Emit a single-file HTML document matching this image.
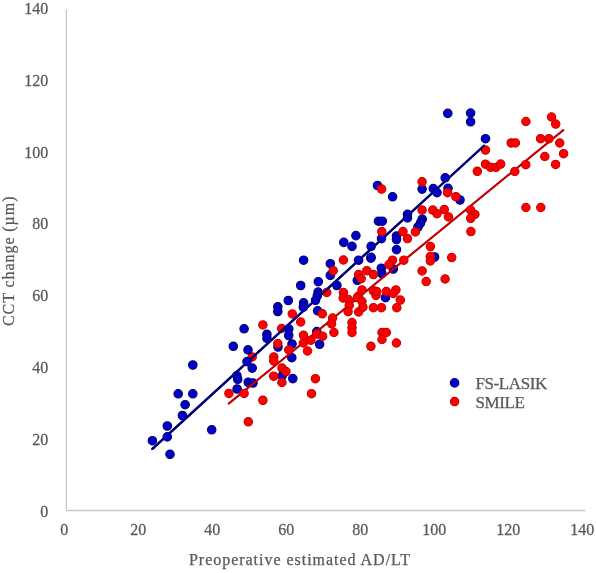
<!DOCTYPE html>
<html><head><meta charset="utf-8"><style>
html,body{margin:0;padding:0;background:#fff;width:596px;height:573px;overflow:hidden}
svg{display:block}
text{font-family:"Liberation Serif","Times New Roman",serif;fill:#595959;font-size:16px;stroke:#595959;stroke-width:0.25px}
.lg{font-size:17px;letter-spacing:-0.4px}
</style></head><body>
<svg width="596" height="573" viewBox="0 0 596 573">
<rect width="596" height="573" fill="#fff"/>
<g stroke="#c8c8c8" stroke-width="1.3" fill="none">
<line x1="66.3" y1="9.5" x2="66.3" y2="511.1"/>
<line x1="65.6" y1="510.5" x2="585.3" y2="510.5"/>
</g>
<g><text transform="translate(48.3,516.70) scale(1,1.07)" text-anchor="end">0</text><text transform="translate(48.3,444.86) scale(1,1.07)" text-anchor="end">20</text><text transform="translate(48.3,373.02) scale(1,1.07)" text-anchor="end">40</text><text transform="translate(48.3,301.18) scale(1,1.07)" text-anchor="end">60</text><text transform="translate(48.3,229.34) scale(1,1.07)" text-anchor="end">80</text><text transform="translate(48.3,157.50) scale(1,1.07)" text-anchor="end">100</text><text transform="translate(48.3,85.66) scale(1,1.07)" text-anchor="end">120</text><text transform="translate(48.3,13.82) scale(1,1.07)" text-anchor="end">140</text></g>
<g><text transform="translate(64.2,535.4) scale(1,1.07)" text-anchor="middle">0</text><text transform="translate(138.2,535.4) scale(1,1.07)" text-anchor="middle">20</text><text transform="translate(212.2,535.4) scale(1,1.07)" text-anchor="middle">40</text><text transform="translate(286.3,535.4) scale(1,1.07)" text-anchor="middle">60</text><text transform="translate(360.3,535.4) scale(1,1.07)" text-anchor="middle">80</text><text transform="translate(434.3,535.4) scale(1,1.07)" text-anchor="middle">100</text><text transform="translate(508.3,535.4) scale(1,1.07)" text-anchor="middle">120</text><text transform="translate(582.3,535.4) scale(1,1.07)" text-anchor="middle">140</text></g>
<g fill="#ff0000" stroke="#c40000" stroke-width="1.1">
<circle cx="281.6" cy="328.5" r="4.2"/>
<circle cx="252.2" cy="357.0" r="4.2"/>
</g>
<line x1="152.4" y1="448.9" x2="484.0" y2="145.7" stroke="#000078" stroke-width="2.2" stroke-linecap="round"/>
<g fill="#0000c8" stroke="#000078" stroke-width="1.2">
<circle cx="152.4" cy="440.7" r="4.2"/>
<circle cx="167.3" cy="426.0" r="4.2"/>
<circle cx="167.3" cy="436.9" r="4.2"/>
<circle cx="170.0" cy="454.3" r="4.2"/>
<circle cx="211.7" cy="429.8" r="4.2"/>
<circle cx="178.2" cy="393.8" r="4.2"/>
<circle cx="192.8" cy="393.8" r="4.2"/>
<circle cx="185.1" cy="404.7" r="4.2"/>
<circle cx="182.4" cy="415.5" r="4.2"/>
<circle cx="192.8" cy="365.0" r="4.2"/>
<circle cx="244.1" cy="328.8" r="4.2"/>
<circle cx="233.3" cy="346.3" r="4.2"/>
<circle cx="248.0" cy="349.9" r="4.2"/>
<circle cx="247.0" cy="361.6" r="4.2"/>
<circle cx="252.2" cy="368.1" r="4.2"/>
<circle cx="236.9" cy="375.6" r="4.2"/>
<circle cx="237.7" cy="379.3" r="4.2"/>
<circle cx="248.2" cy="382.3" r="4.2"/>
<circle cx="253.0" cy="383.0" r="4.2"/>
<circle cx="237.1" cy="389.0" r="4.2"/>
<circle cx="278.0" cy="347.0" r="4.2"/>
<circle cx="292.0" cy="344.0" r="4.2"/>
<circle cx="291.8" cy="357.7" r="4.2"/>
<circle cx="282.1" cy="375.9" r="4.2"/>
<circle cx="292.8" cy="378.6" r="4.2"/>
<circle cx="288.3" cy="300.5" r="4.2"/>
<circle cx="277.8" cy="306.8" r="4.2"/>
<circle cx="277.8" cy="311.5" r="4.2"/>
<circle cx="266.9" cy="334.3" r="4.2"/>
<circle cx="267.0" cy="338.4" r="4.2"/>
<circle cx="288.8" cy="329.0" r="4.2"/>
<circle cx="288.7" cy="335.5" r="4.2"/>
<circle cx="303.6" cy="260.2" r="4.2"/>
<circle cx="300.7" cy="285.5" r="4.2"/>
<circle cx="303.6" cy="302.9" r="4.2"/>
<circle cx="303.3" cy="307.2" r="4.2"/>
<circle cx="318.3" cy="281.7" r="4.2"/>
<circle cx="318.1" cy="292.1" r="4.2"/>
<circle cx="317.3" cy="295.8" r="4.2"/>
<circle cx="315.5" cy="300.3" r="4.2"/>
<circle cx="317.6" cy="310.8" r="4.2"/>
<circle cx="330.3" cy="263.7" r="4.2"/>
<circle cx="330.3" cy="275.4" r="4.2"/>
<circle cx="336.9" cy="285.5" r="4.2"/>
<circle cx="358.6" cy="260.2" r="4.2"/>
<circle cx="370.8" cy="258.1" r="4.2"/>
<circle cx="357.3" cy="280.3" r="4.2"/>
<circle cx="316.8" cy="331.6" r="4.2"/>
<circle cx="319.6" cy="344.3" r="4.2"/>
<circle cx="381.3" cy="268.2" r="4.2"/>
<circle cx="381.8" cy="273.5" r="4.2"/>
<circle cx="393.3" cy="269.0" r="4.2"/>
<circle cx="385.5" cy="297.7" r="4.2"/>
<circle cx="355.9" cy="235.6" r="4.2"/>
<circle cx="343.8" cy="242.4" r="4.2"/>
<circle cx="352.0" cy="246.4" r="4.2"/>
<circle cx="371.1" cy="246.4" r="4.2"/>
<circle cx="371.1" cy="257.4" r="4.2"/>
<circle cx="381.5" cy="238.6" r="4.2"/>
<circle cx="378.5" cy="221.2" r="4.2"/>
<circle cx="382.3" cy="221.2" r="4.2"/>
<circle cx="377.5" cy="185.5" r="4.2"/>
<circle cx="392.6" cy="196.8" r="4.2"/>
<circle cx="396.5" cy="236.0" r="4.2"/>
<circle cx="396.5" cy="239.5" r="4.2"/>
<circle cx="396.5" cy="249.6" r="4.2"/>
<circle cx="407.5" cy="214.3" r="4.2"/>
<circle cx="407.5" cy="217.9" r="4.2"/>
<circle cx="422.1" cy="189.1" r="4.2"/>
<circle cx="433.3" cy="188.6" r="4.2"/>
<circle cx="437.0" cy="192.6" r="4.2"/>
<circle cx="422.2" cy="219.2" r="4.2"/>
<circle cx="420.5" cy="223.0" r="4.2"/>
<circle cx="418.0" cy="227.0" r="4.2"/>
<circle cx="445.2" cy="177.8" r="4.2"/>
<circle cx="448.0" cy="188.3" r="4.2"/>
<circle cx="460.0" cy="200.0" r="4.2"/>
<circle cx="447.8" cy="113.4" r="4.2"/>
<circle cx="470.6" cy="113.1" r="4.2"/>
<circle cx="470.6" cy="121.8" r="4.2"/>
<circle cx="485.5" cy="138.7" r="4.2"/>
<circle cx="434.6" cy="257.0" r="4.2"/>
</g>
<line x1="228.7" y1="403.6" x2="563.3" y2="130.1" stroke="#c00000" stroke-width="2.2" stroke-linecap="round"/>
<g fill="#ff0000" stroke="#c40000" stroke-width="1.1">
<circle cx="248.3" cy="421.8" r="4.2"/>
<circle cx="228.9" cy="393.4" r="4.2"/>
<circle cx="244.1" cy="393.4" r="4.2"/>
<circle cx="262.9" cy="400.3" r="4.2"/>
<circle cx="311.5" cy="393.7" r="4.2"/>
<circle cx="315.4" cy="378.7" r="4.2"/>
<circle cx="273.8" cy="356.9" r="4.2"/>
<circle cx="273.8" cy="361.0" r="4.2"/>
<circle cx="277.8" cy="343.6" r="4.2"/>
<circle cx="288.8" cy="349.9" r="4.2"/>
<circle cx="282.0" cy="368.1" r="4.2"/>
<circle cx="286.0" cy="371.6" r="4.2"/>
<circle cx="273.7" cy="376.2" r="4.2"/>
<circle cx="281.9" cy="382.5" r="4.2"/>
<circle cx="262.9" cy="324.9" r="4.2"/>
<circle cx="292.3" cy="313.9" r="4.2"/>
<circle cx="300.7" cy="322.0" r="4.2"/>
<circle cx="303.4" cy="343.0" r="4.2"/>
<circle cx="307.5" cy="351.0" r="4.2"/>
<circle cx="370.9" cy="346.3" r="4.2"/>
<circle cx="303.5" cy="335.3" r="4.2"/>
<circle cx="310.9" cy="340.2" r="4.2"/>
<circle cx="316.9" cy="334.1" r="4.2"/>
<circle cx="322.6" cy="336.2" r="4.2"/>
<circle cx="322.3" cy="313.8" r="4.2"/>
<circle cx="332.6" cy="318.0" r="4.2"/>
<circle cx="331.6" cy="323.8" r="4.2"/>
<circle cx="333.9" cy="332.5" r="4.2"/>
<circle cx="343.4" cy="260.0" r="4.2"/>
<circle cx="333.2" cy="270.7" r="4.2"/>
<circle cx="326.8" cy="292.5" r="4.2"/>
<circle cx="343.4" cy="292.5" r="4.2"/>
<circle cx="343.2" cy="298.0" r="4.2"/>
<circle cx="366.8" cy="270.7" r="4.2"/>
<circle cx="373.4" cy="274.6" r="4.2"/>
<circle cx="358.6" cy="274.6" r="4.2"/>
<circle cx="361.2" cy="278.6" r="4.2"/>
<circle cx="362.0" cy="289.9" r="4.2"/>
<circle cx="358.6" cy="296.0" r="4.2"/>
<circle cx="373.4" cy="290.8" r="4.2"/>
<circle cx="376.0" cy="295.5" r="4.2"/>
<circle cx="357.3" cy="297.6" r="4.2"/>
<circle cx="362.0" cy="301.5" r="4.2"/>
<circle cx="348.3" cy="299.5" r="4.2"/>
<circle cx="349.2" cy="305.5" r="4.2"/>
<circle cx="348.1" cy="311.6" r="4.2"/>
<circle cx="358.6" cy="312.0" r="4.2"/>
<circle cx="362.9" cy="307.2" r="4.2"/>
<circle cx="373.4" cy="307.7" r="4.2"/>
<circle cx="381.4" cy="307.7" r="4.2"/>
<circle cx="352.0" cy="322.5" r="4.2"/>
<circle cx="352.0" cy="327.7" r="4.2"/>
<circle cx="352.0" cy="332.5" r="4.2"/>
<circle cx="382.0" cy="332.5" r="4.2"/>
<circle cx="386.3" cy="332.5" r="4.2"/>
<circle cx="382.0" cy="339.5" r="4.2"/>
<circle cx="396.4" cy="343.0" r="4.2"/>
<circle cx="392.5" cy="260.2" r="4.2"/>
<circle cx="389.0" cy="264.6" r="4.2"/>
<circle cx="403.8" cy="260.2" r="4.2"/>
<circle cx="422.1" cy="270.9" r="4.2"/>
<circle cx="426.2" cy="281.6" r="4.2"/>
<circle cx="376.7" cy="291.6" r="4.2"/>
<circle cx="386.3" cy="291.6" r="4.2"/>
<circle cx="395.9" cy="289.9" r="4.2"/>
<circle cx="393.3" cy="293.4" r="4.2"/>
<circle cx="400.3" cy="300.1" r="4.2"/>
<circle cx="396.8" cy="307.7" r="4.2"/>
<circle cx="430.3" cy="256.5" r="4.2"/>
<circle cx="430.3" cy="261.0" r="4.2"/>
<circle cx="451.7" cy="257.6" r="4.2"/>
<circle cx="445.1" cy="279.0" r="4.2"/>
<circle cx="430.4" cy="246.6" r="4.2"/>
<circle cx="415.4" cy="231.9" r="4.2"/>
<circle cx="422.1" cy="181.8" r="4.2"/>
<circle cx="381.6" cy="189.1" r="4.2"/>
<circle cx="422.1" cy="210.1" r="4.2"/>
<circle cx="432.8" cy="210.1" r="4.2"/>
<circle cx="437.0" cy="213.7" r="4.2"/>
<circle cx="444.3" cy="209.6" r="4.2"/>
<circle cx="448.5" cy="216.9" r="4.2"/>
<circle cx="381.8" cy="231.6" r="4.2"/>
<circle cx="403.0" cy="231.6" r="4.2"/>
<circle cx="407.5" cy="238.6" r="4.2"/>
<circle cx="447.6" cy="192.7" r="4.2"/>
<circle cx="455.9" cy="196.7" r="4.2"/>
<circle cx="470.6" cy="210.0" r="4.2"/>
<circle cx="474.9" cy="214.4" r="4.2"/>
<circle cx="470.7" cy="218.3" r="4.2"/>
<circle cx="470.9" cy="231.6" r="4.2"/>
<circle cx="477.3" cy="171.3" r="4.2"/>
<circle cx="485.5" cy="164.2" r="4.2"/>
<circle cx="490.5" cy="167.2" r="4.2"/>
<circle cx="495.9" cy="167.5" r="4.2"/>
<circle cx="500.7" cy="164.1" r="4.2"/>
<circle cx="485.5" cy="150.1" r="4.2"/>
<circle cx="514.8" cy="171.5" r="4.2"/>
<circle cx="525.8" cy="164.7" r="4.2"/>
<circle cx="525.9" cy="121.5" r="4.2"/>
<circle cx="511.2" cy="142.9" r="4.2"/>
<circle cx="515.4" cy="142.9" r="4.2"/>
<circle cx="540.6" cy="138.7" r="4.2"/>
<circle cx="548.9" cy="138.7" r="4.2"/>
<circle cx="551.5" cy="117.0" r="4.2"/>
<circle cx="555.7" cy="124.1" r="4.2"/>
<circle cx="559.7" cy="143.0" r="4.2"/>
<circle cx="563.6" cy="153.7" r="4.2"/>
<circle cx="544.8" cy="156.5" r="4.2"/>
<circle cx="555.6" cy="164.4" r="4.2"/>
<circle cx="525.9" cy="207.5" r="4.2"/>
<circle cx="540.8" cy="207.5" r="4.2"/>
</g>
<mask id="bm" maskUnits="userSpaceOnUse" x="0" y="0" width="596" height="573"><rect width="596" height="573" fill="#fff"/><g fill="#000">
<circle cx="152.4" cy="440.7" r="4.6"/>
<circle cx="167.3" cy="426.0" r="4.6"/>
<circle cx="167.3" cy="436.9" r="4.6"/>
<circle cx="170.0" cy="454.3" r="4.6"/>
<circle cx="211.7" cy="429.8" r="4.6"/>
<circle cx="178.2" cy="393.8" r="4.6"/>
<circle cx="192.8" cy="393.8" r="4.6"/>
<circle cx="185.1" cy="404.7" r="4.6"/>
<circle cx="182.4" cy="415.5" r="4.6"/>
<circle cx="192.8" cy="365.0" r="4.6"/>
<circle cx="244.1" cy="328.8" r="4.6"/>
<circle cx="233.3" cy="346.3" r="4.6"/>
<circle cx="248.0" cy="349.9" r="4.6"/>
<circle cx="247.0" cy="361.6" r="4.6"/>
<circle cx="252.2" cy="368.1" r="4.6"/>
<circle cx="236.9" cy="375.6" r="4.6"/>
<circle cx="237.7" cy="379.3" r="4.6"/>
<circle cx="248.2" cy="382.3" r="4.6"/>
<circle cx="253.0" cy="383.0" r="4.6"/>
<circle cx="237.1" cy="389.0" r="4.6"/>
<circle cx="278.0" cy="347.0" r="4.6"/>
<circle cx="292.0" cy="344.0" r="4.6"/>
<circle cx="291.8" cy="357.7" r="4.6"/>
<circle cx="282.1" cy="375.9" r="4.6"/>
<circle cx="292.8" cy="378.6" r="4.6"/>
<circle cx="288.3" cy="300.5" r="4.6"/>
<circle cx="277.8" cy="306.8" r="4.6"/>
<circle cx="277.8" cy="311.5" r="4.6"/>
<circle cx="266.9" cy="334.3" r="4.6"/>
<circle cx="267.0" cy="338.4" r="4.6"/>
<circle cx="288.8" cy="329.0" r="4.6"/>
<circle cx="288.7" cy="335.5" r="4.6"/>
<circle cx="303.6" cy="260.2" r="4.6"/>
<circle cx="300.7" cy="285.5" r="4.6"/>
<circle cx="303.6" cy="302.9" r="4.6"/>
<circle cx="303.3" cy="307.2" r="4.6"/>
<circle cx="318.3" cy="281.7" r="4.6"/>
<circle cx="318.1" cy="292.1" r="4.6"/>
<circle cx="317.3" cy="295.8" r="4.6"/>
<circle cx="315.5" cy="300.3" r="4.6"/>
<circle cx="317.6" cy="310.8" r="4.6"/>
<circle cx="330.3" cy="263.7" r="4.6"/>
<circle cx="330.3" cy="275.4" r="4.6"/>
<circle cx="336.9" cy="285.5" r="4.6"/>
<circle cx="358.6" cy="260.2" r="4.6"/>
<circle cx="370.8" cy="258.1" r="4.6"/>
<circle cx="357.3" cy="280.3" r="4.6"/>
<circle cx="316.8" cy="331.6" r="4.6"/>
<circle cx="319.6" cy="344.3" r="4.6"/>
<circle cx="381.3" cy="268.2" r="4.6"/>
<circle cx="381.8" cy="273.5" r="4.6"/>
<circle cx="393.3" cy="269.0" r="4.6"/>
<circle cx="385.5" cy="297.7" r="4.6"/>
<circle cx="355.9" cy="235.6" r="4.6"/>
<circle cx="343.8" cy="242.4" r="4.6"/>
<circle cx="352.0" cy="246.4" r="4.6"/>
<circle cx="371.1" cy="246.4" r="4.6"/>
<circle cx="371.1" cy="257.4" r="4.6"/>
<circle cx="381.5" cy="238.6" r="4.6"/>
<circle cx="378.5" cy="221.2" r="4.6"/>
<circle cx="382.3" cy="221.2" r="4.6"/>
<circle cx="377.5" cy="185.5" r="4.6"/>
<circle cx="392.6" cy="196.8" r="4.6"/>
<circle cx="396.5" cy="236.0" r="4.6"/>
<circle cx="396.5" cy="239.5" r="4.6"/>
<circle cx="396.5" cy="249.6" r="4.6"/>
<circle cx="407.5" cy="214.3" r="4.6"/>
<circle cx="407.5" cy="217.9" r="4.6"/>
<circle cx="422.1" cy="189.1" r="4.6"/>
<circle cx="433.3" cy="188.6" r="4.6"/>
<circle cx="437.0" cy="192.6" r="4.6"/>
<circle cx="422.2" cy="219.2" r="4.6"/>
<circle cx="420.5" cy="223.0" r="4.6"/>
<circle cx="418.0" cy="227.0" r="4.6"/>
<circle cx="445.2" cy="177.8" r="4.6"/>
<circle cx="448.0" cy="188.3" r="4.6"/>
<circle cx="460.0" cy="200.0" r="4.6"/>
<circle cx="447.8" cy="113.4" r="4.6"/>
<circle cx="470.6" cy="113.1" r="4.6"/>
<circle cx="470.6" cy="121.8" r="4.6"/>
<circle cx="485.5" cy="138.7" r="4.6"/>
<circle cx="434.6" cy="257.0" r="4.6"/>
</g></mask>
<line x1="152.4" y1="448.9" x2="484.0" y2="145.7" stroke="#000078" stroke-width="2.2" stroke-linecap="round" mask="url(#bm)"/>
<circle cx="454.6" cy="382.9" r="4.2" fill="#0000c8" stroke="#000078" stroke-width="1.2"/>
<circle cx="454.6" cy="401.6" r="4.2" fill="#ff0000" stroke="#c40000" stroke-width="1.1"/>
<text x="475.5" y="388.8" class="lg">FS-LASIK</text>
<text x="475.5" y="407.9" class="lg">SMILE</text>
<text x="189" y="564.6" letter-spacing="0.97">Preoperative estimated AD/LT</text>
<text transform="translate(14.2,326) rotate(-90)" letter-spacing="0.93">CCT change (µm)</text>
</svg>
</body></html>
